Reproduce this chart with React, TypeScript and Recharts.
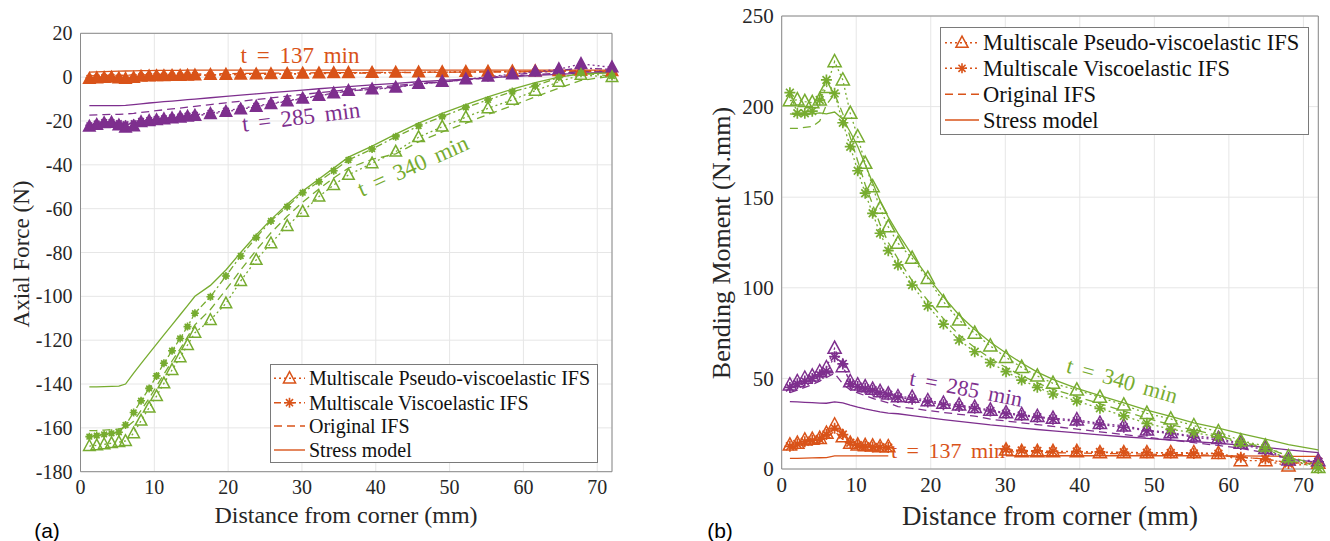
import React from 'react';
import { LineChart, Line, XAxis, YAxis, CartesianGrid, ReferenceArea } from 'recharts';

const ORANGE = '#D95319';
const PURPLE = '#7E2F8E';
const GREEN = '#77AC30';
const SERIF = '"Liberation Serif", "Times New Roman", serif';

// (a) axial force, distance from corner in mm
const DIST_A = [1.2, 2.2, 3.2, 4.2, 5.2, 6.1, 7.2, 8.2, 9.3, 10.3, 11.3, 12.4, 13.5, 14.5, 15.5, 17.6, 19.7, 21.7, 23.8, 25.8, 28.0, 30.1, 32.3, 34.3, 36.3, 39.5, 42.7, 45.8, 49.0, 52.2, 55.2, 58.5, 61.6, 64.8, 67.8, 72.0];

const A137_PSEUDO = [-0.8, -0.5, -0.3, -0.2, -0.6, -0.8, -0.3, 0.2, 0.4, 0.5, 0.5, 0.6, 0.6, 0.7, 0.8, 1.0, 1.1, 1.2, 1.3, 1.4, 1.5, 1.6, 1.7, 1.8, 1.9, 2.0, 2.1, 2.2, 2.3, 2.4, 2.5, 2.6, 2.7, 2.8, 3.0, 2.8];
const A137_VISCO = [-0.4, -0.2, 0.0, 0.1, -0.3, -0.5, 0.0, 0.3, 0.5, 0.6, 0.6, 0.7, 0.7, 0.8, 0.9, 1.0, 1.1, 1.2, 1.3, 1.3, 1.4, 1.5, 1.6, 1.7, 1.8, 1.9, 2.0, 2.1, 2.2, 2.3, 2.4, 2.5, 2.6, 2.7, 2.9, 2.7];
const A137_ORIG = [0.6, 0.7, 0.8, 0.8, 0.8, 0.9, 1.0, 1.0, 1.1, 1.2, 1.2, 1.3, 1.3, 1.4, 1.4, 1.5, 1.6, 1.7, 1.7, 1.8, 1.9, 1.9, 2.0, 2.0, 2.1, 2.1, 2.2, 2.2, 2.3, 2.3, 2.4, 2.4, 2.5, 2.5, 2.6, 2.6];
const A137_STRESS = [2.3, 2.4, 2.5, 2.6, 2.7, 2.8, 2.9, 3.0, 3.0, 3.1, 3.1, 3.1, 3.1, 3.2, 3.2, 3.2, 3.2, 3.2, 3.2, 3.2, 3.2, 3.2, 3.2, 3.2, 3.2, 3.2, 3.2, 3.2, 3.2, 3.2, 3.2, 3.2, 3.2, 3.2, 3.2, 3.2];

const A285_PSEUDO = [-22.6, -21.8, -21.0, -20.8, -22.0, -23.0, -22.5, -20.5, -20.0, -19.6, -19.2, -18.8, -18.4, -18.0, -17.6, -16.8, -15.8, -14.7, -13.5, -12.3, -11.0, -9.8, -8.5, -7.4, -6.3, -5.6, -4.8, -3.1, -2.1, -1.0, 0.2, 1.3, 2.5, 3.6, 6.0, 4.5];
const A285_VISCO = [-22.0, -21.2, -20.5, -20.5, -21.0, -21.5, -21.0, -20.0, -19.6, -19.2, -18.8, -18.4, -18.0, -17.6, -17.2, -16.3, -15.3, -14.3, -13.1, -12.0, -10.8, -9.6, -8.4, -7.3, -6.3, -5.5, -4.5, -3.2, -2.2, -1.2, -0.2, 1.0, 2.0, 3.0, 4.2, 3.5];
const A285_ORIG = [-17.3, -17.2, -17.1, -17.0, -17.0, -16.8, -16.5, -16.1, -15.7, -15.3, -14.9, -14.5, -14.1, -13.7, -13.3, -12.5, -11.7, -11.0, -10.2, -9.5, -8.7, -7.9, -7.1, -6.4, -5.7, -4.8, -3.8, -2.9, -2.0, -1.2, -0.4, 0.4, 1.1, 1.8, 2.4, 2.5];
const A285_STRESS = [-13.0, -13.0, -13.0, -13.0, -13.0, -12.9, -12.5, -12.2, -11.8, -11.5, -11.2, -10.9, -10.6, -10.3, -10.0, -9.4, -8.8, -8.2, -7.6, -7.1, -6.5, -5.9, -5.3, -4.8, -4.3, -3.5, -2.8, -2.1, -1.5, -0.9, -0.3, 0.3, 0.8, 1.3, 1.8, 2.2];

const A340_PSEUDO = [-168.3, -168.0, -167.5, -167.0, -166.5, -166.0, -162.5, -156.7, -150.8, -145.5, -139.7, -133.6, -127.8, -122.2, -116.6, -110.8, -103.2, -93.0, -83.4, -75.8, -67.9, -61.4, -54.5, -49.2, -44.6, -39.3, -34.0, -27.4, -22.6, -18.3, -14.2, -10.4, -6.2, -2.1, 1.0, 0.0];
const A340_VISCO = [-164.0, -163.5, -163.0, -162.5, -162.0, -158.7, -153.0, -147.6, -142.0, -136.3, -130.5, -124.8, -119.2, -113.8, -107.7, -100.2, -90.7, -81.6, -73.2, -65.6, -59.1, -52.7, -47.7, -42.7, -37.8, -32.8, -27.2, -22.3, -18.0, -13.8, -10.4, -6.6, -4.0, -0.1, 1.8, 0.5];
const A340_ORIG = [-161.3, -161.2, -161.0, -160.8, -160.5, -160.0, -157.0, -152.0, -146.5, -141.0, -135.5, -129.5, -124.0, -118.5, -113.0, -106.0, -97.0, -88.0, -79.0, -71.0, -63.5, -57.0, -51.0, -46.0, -41.5, -37.5, -35.0, -29.5, -25.0, -21.0, -17.0, -13.0, -9.0, -5.0, -1.5, 0.5];
const A340_STRESS = [-141.3, -141.3, -141.2, -141.1, -141.0, -140.0, -135.0, -130.7, -126.0, -121.8, -117.6, -113.0, -108.4, -104.2, -100.0, -95.0, -88.0, -80.0, -72.0, -65.0, -58.0, -52.0, -46.5, -41.5, -36.5, -31.5, -26.0, -21.0, -16.5, -12.5, -9.0, -5.5, -2.5, 0.0, 1.5, 2.0];

// (b) bending moment
const DIST_B = [1.1, 2.1, 3.1, 4.1, 5.1, 6.0, 7.1, 8.2, 9.2, 10.2, 11.2, 12.2, 13.2, 14.3, 15.6, 17.5, 19.6, 21.7, 23.8, 25.9, 28.0, 30.1, 32.2, 34.3, 36.4, 39.6, 42.7, 45.9, 49.0, 52.2, 55.3, 58.6, 61.6, 64.9, 68.0, 72.0];

const B137_PSEUDO = [13.2, 14.2, 16.0, 16.4, 16.9, 19.7, 24.3, 17.8, 14.2, 13.2, 12.9, 12.7, 12.3, 12.3, null, null, null, null, null, null, null, 10.5, 9.6, 9.6, 9.6, 9.6, 9.0, 9.0, 9.0, 9.0, 9.0, 8.6, 4.6, 4.6, 1.7, 3.2];
const B137_VISCO = [12.5, 13.8, 15.0, 15.8, 16.5, 19.0, 22.5, 19.0, 14.5, 13.2, 12.6, 12.2, 12.0, 11.8, null, null, null, null, null, null, null, 10.8, 10.2, 10.0, 9.8, 9.6, 9.4, 9.2, 9.0, 8.8, 8.6, 8.4, 6.5, 5.5, 3.0, 4.0];
const B137_ORIG = [11.5, 12.5, 13.5, 14.0, 15.0, 17.0, 21.0, 16.0, 13.0, 12.0, 11.5, 11.0, 11.0, 11.0, null, null, null, null, null, null, null, 9.5, 9.3, 9.1, 9.0, 8.8, 8.6, 8.4, 8.2, 8.0, 7.8, 7.5, 6.5, 5.5, 3.5, 3.0];
const B137_STRESS = [5.9, 5.9, 6.0, 6.1, 6.2, 6.3, 7.2, 7.2, 7.2, 7.2, 7.2, 7.2, 7.2, 7.2, null, null, null, null, null, null, null, 7.3, 7.3, 7.3, 7.3, 7.3, 7.3, 7.3, 7.3, 7.3, 7.3, 7.2, 7.2, 7.1, 7.0, 7.0];

const B285_PSEUDO = [46.4, 48.2, 50.1, 51.3, 53.7, 55.9, 66.6, 56.5, 48.2, 46.4, 45.4, 44.0, 42.7, 41.4, 39.9, 39.6, 37.7, 36.3, 35.3, 34.0, 32.5, 31.0, 30.0, 29.0, 28.0, 27.1, 25.2, 23.8, 21.5, 20.0, 18.2, 16.9, 14.2, 11.4, 5.0, 4.6];
const B285_VISCO = [45.0, 47.0, 48.5, 50.0, 52.0, 54.0, 62.0, 58.0, 47.0, 45.5, 44.5, 43.5, 42.0, 41.0, 39.5, 38.5, 37.0, 35.5, 34.5, 33.5, 32.0, 30.5, 29.5, 28.5, 27.5, 26.3, 24.5, 23.0, 21.0, 19.5, 17.5, 16.0, 13.5, 10.5, 4.5, 4.0];
const B285_ORIG = [42.1, 43.5, 45.0, 46.5, 48.5, 50.5, 52.8, 47.0, 43.6, 42.0, 40.5, 39.0, 37.8, 36.5, 34.4, 33.5, 32.3, 31.2, 30.2, 29.2, 27.5, 26.5, 25.5, 24.5, 23.5, 22.0, 20.5, 19.0, 17.5, 16.0, 14.5, 13.0, 11.4, 9.0, 5.5, 3.7];
const B285_STRESS = [37.2, 37.0, 36.8, 36.6, 36.4, 36.3, 37.0, 36.5, 35.3, 34.2, 33.2, 32.3, 31.5, 30.8, 30.5, 29.5, 28.3, 27.3, 26.3, 25.3, 24.3, 23.5, 22.6, 21.8, 21.0, 19.9, 18.8, 17.8, 16.9, 16.0, 15.1, 14.2, 13.2, 12.0, 10.5, 9.0];

const B340_PSEUDO = [203.3, 203.7, 202.8, 202.2, 203.7, 210.6, 224.8, 214.7, 196.3, 183.4, 168.7, 155.8, 143.9, 133.7, 124.6, 116.3, 105.2, 92.3, 82.2, 74.9, 67.9, 61.6, 56.1, 51.3, 47.3, 43.6, 39.6, 35.3, 30.7, 27.6, 23.9, 20.6, 15.6, 12.7, 6.8, 0.9];
const B340_VISCO = [207.7, 196.3, 196.3, 197.5, 203.6, 214.7, 207.3, 191.1, 177.9, 164.6, 152.2, 141.1, 130.1, 120.5, 112.6, 101.5, 90.0, 80.0, 71.2, 64.7, 58.7, 53.7, 49.1, 45.1, 41.4, 37.5, 33.5, 29.3, 25.2, 21.9, 20.0, 17.8, 14.5, 11.4, 5.3, 0.4];
const B340_ORIG = [188.0, 188.0, 188.5, 189.0, 192.0, 201.0, 207.0, 196.0, 183.0, 170.0, 157.0, 146.0, 135.0, 125.0, 116.0, 104.0, 93.0, 83.0, 74.0, 67.0, 61.0, 56.0, 51.5, 47.5, 44.0, 40.0, 36.0, 32.0, 28.0, 24.5, 21.5, 18.5, 15.0, 12.0, 7.0, 2.0];
const B340_STRESS = [196.0, 195.5, 195.5, 196.0, 196.5, 196.0, 197.0, 193.0, 186.0, 178.0, 168.0, 158.0, 148.0, 139.0, 130.0, 118.0, 106.0, 95.0, 85.0, 77.0, 70.0, 64.0, 58.5, 53.5, 49.5, 44.5, 40.5, 36.5, 32.5, 29.0, 25.5, 22.5, 19.5, 16.5, 13.5, 10.5];

const X_TICKS = [0, 10, 20, 30, 40, 50, 60, 70];
const A_TICKS = [-180, -160, -140, -120, -100, -80, -60, -40, -20, 0, 20];
const B_TICKS = [0, 50, 100, 150, 200, 250];

const LEGEND_LABELS = ['Multiscale Pseudo-viscoelastic IFS', 'Multiscale Viscoelastic IFS', 'Original IFS', 'Stress model'];

type Kind = 'pseudo' | 'visco' | 'orig' | 'stress';
type Series = { key: string; values: (number | null)[]; color: string; kind: Kind; filled?: boolean };

const DOTTED = '2 3';
const DASHED = '8 5';
const DASHDOT = '7 3 2 3';

function triangle(color: string, size: number, filled: boolean) {
  return (p: any) => {
    const { cx, cy, index } = p;
    if (cx == null || cy == null || Number.isNaN(cy)) return <g key={`n${index}`} />;
    const w = size * 0.55;
    return (
      <polygon
        key={`t${index}`}
        points={`${cx},${cy - size * 0.6} ${cx - w},${cy + size * 0.42} ${cx + w},${cy + size * 0.42}`}
        fill={filled ? color : 'none'}
        stroke={color}
        strokeWidth={1.5}
      />
    );
  };
}

// asterisk marker; blob=true adds a filled core (how it reads at small size in panel a)
function star(color: string, r: number, sw: number, blob = false) {
  return (p: any) => {
    const { cx, cy, index } = p;
    if (cx == null || cy == null || Number.isNaN(cy)) return <g key={`n${index}`} />;
    const d = r * 0.707;
    return (
      <g key={`s${index}`}>
        {blob && <circle cx={cx} cy={cy} r={r * 0.7} fill={color} />}
        <path
          d={`M${cx - r},${cy}H${cx + r}M${cx},${cy - r}V${cy + r}M${cx - d},${cy - d}L${cx + d},${cy + d}M${cx - d},${cy + d}L${cx + d},${cy - d}`}
          stroke={color}
          strokeWidth={sw}
        />
      </g>
    );
  };
}

function group(prefix: string, color: string, vals: (number | null)[][], filled: boolean): Series[] {
  const kinds: Kind[] = ['stress', 'orig', 'visco', 'pseudo'];
  return kinds.map((k, i) => ({ key: `${prefix}_${k}`, values: vals[i], color, kind: k, filled }));
}

const SERIES_A: Series[] = [
  ...group('a137', ORANGE, [A137_STRESS, A137_ORIG, A137_VISCO, A137_PSEUDO], true),
  ...group('a285', PURPLE, [A285_STRESS, A285_ORIG, A285_VISCO, A285_PSEUDO], true),
  ...group('a340', GREEN, [A340_STRESS, A340_ORIG, A340_VISCO, A340_PSEUDO], false),
];

const SERIES_B: Series[] = [
  ...group('b137', ORANGE, [B137_STRESS, B137_ORIG, B137_VISCO, B137_PSEUDO], false),
  ...group('b285', PURPLE, [B285_STRESS, B285_ORIG, B285_VISCO, B285_PSEUDO], false),
  ...group('b340', GREEN, [B340_STRESS, B340_ORIG, B340_VISCO, B340_PSEUDO], false),
];

function rows(xs: number[], series: Series[]) {
  return xs.map((x, i) => {
    const r: Record<string, number | null> = { x };
    series.forEach((s) => (r[s.key] = s.values[i]));
    return r;
  });
}

function renderLines(series: Series[], panel: 'a' | 'b') {
  return series.map((s) => {
    let dash: string | undefined;
    let dot: any = false;
    if (s.kind === 'pseudo') {
      dash = DOTTED;
      dot = triangle(s.color, panel === 'a' ? 10.5 : 12, !!s.filled);
    } else if (s.kind === 'visco') {
      dash = panel === 'a' ? DASHDOT : DOTTED;
      dot = panel === 'a' ? star(s.color, 4, 1.6, true) : star(s.color, 5.5, 1.7);
    } else if (s.kind === 'orig') {
      dash = DASHED;
    }
    return (
      <Line
        key={s.key}
        dataKey={s.key}
        type="linear"
        stroke={s.color}
        strokeWidth={1.3}
        strokeDasharray={dash}
        dot={dot}
        activeDot={false}
        connectNulls={false}
        isAnimationActive={false}
      />
    );
  });
}

const tickStyle = (size: number) => ({ fill: '#262626', fontSize: size, fontFamily: SERIF });

function Note({ x, y, angle, color, size, text }: { x: number; y: number; angle: number; color: string; size: number; text: string }) {
  return (
    <div
      style={{
        position: 'absolute',
        left: x,
        top: y,
        transform: `translate(-50%, -50%) rotate(${angle}deg)`,
        color,
        fontSize: size,
        fontFamily: SERIF,
        whiteSpace: 'pre',
        wordSpacing: 4,
        lineHeight: 1,
      }}
    >
      {text}
    </div>
  );
}

function LegendBox({ left, top, width, height, size, rowY, sample, textX, viscoDash }: {
  left: number; top: number; width: number; height: number; size: number;
  rowY: number[]; sample: [number, number]; textX: number; viscoDash: string;
}) {
  const mid = (sample[0] + sample[1]) / 2;
  const dashes = [DOTTED, viscoDash, DASHED, undefined];
  return (
    <svg style={{ position: 'absolute', left, top }} width={width} height={height}>
      <rect x={0.5} y={0.5} width={width - 1} height={height - 1} fill="#fff" stroke="#7a7a7a" strokeWidth={1} />
      {LEGEND_LABELS.map((lab, i) => (
        <g key={lab}>
          <line x1={sample[0]} x2={sample[1]} y1={rowY[i]} y2={rowY[i]} stroke={ORANGE} strokeWidth={1.4} strokeDasharray={dashes[i]} />
          {i === 0 && triangle(ORANGE, 11, false)({ cx: mid, cy: rowY[i], index: 0 })}
          {i === 1 && star(ORANGE, 5, 1.6)({ cx: mid, cy: rowY[i], index: 1 })}
          <text x={textX} y={rowY[i]} dominantBaseline="central" fontSize={size} fontFamily={SERIF} fill="#111">
            {lab}
          </text>
        </g>
      ))}
    </svg>
  );
}

export default function App() {
  const dataA = rows(DIST_A, SERIES_A);
  const dataB = rows(DIST_B, SERIES_B);
  return (
    <div style={{ position: 'absolute', left: 0, top: 0, width: 1330, height: 541, background: '#fff', overflow: 'hidden' }}>
      {/* panel (a) */}
      <div style={{ position: 'absolute', left: 0, top: 0 }}>
        <LineChart width={640} height={541} data={dataA} margin={{ top: 33.3, right: 28, bottom: 39.3, left: 0 }}>
          <CartesianGrid stroke="#e6e6e6" />
          <XAxis dataKey="x" type="number" domain={[0, 72]} ticks={X_TICKS} height={30} tick={tickStyle(20)} tickLine={false} axisLine={false} />
          <YAxis type="number" domain={[-180, 20]} ticks={A_TICKS} width={80.5} tick={tickStyle(20)} tickLine={false} axisLine={false} />
          <ReferenceArea x1={0} x2={72} y1={-180} y2={20} fill="none" stroke="#8a8a8a" strokeWidth={1} />
          {renderLines(SERIES_A, 'a')}
        </LineChart>
      </div>
      {/* panel (b) */}
      <div style={{ position: 'absolute', left: 660, top: 0 }}>
        <LineChart width={670} height={541} data={dataB} margin={{ top: 16, right: 11.7, bottom: 42, left: 0 }}>
          <CartesianGrid stroke="#e6e6e6" />
          <XAxis dataKey="x" type="number" domain={[0, 72]} ticks={X_TICKS} height={30} tick={tickStyle(21)} tickLine={false} axisLine={false} />
          <YAxis type="number" domain={[0, 250]} ticks={B_TICKS} width={121.7} tick={tickStyle(21)} tickLine={false} axisLine={false} />
          <ReferenceArea x1={0} x2={72} y1={0} y2={250} fill="none" stroke="#8a8a8a" strokeWidth={1} />
          {renderLines(SERIES_B, 'b')}
        </LineChart>
      </div>

      {/* axis titles */}
      <div style={{ position: 'absolute', left: 21, top: 254, transform: 'translate(-50%, -50%) rotate(-90deg)', fontFamily: SERIF, fontSize: 23, color: '#262626', whiteSpace: 'pre', lineHeight: 1 }}>
        Axial Force (N)
      </div>
      <div style={{ position: 'absolute', left: 346, top: 515, transform: 'translate(-50%, -50%)', fontFamily: SERIF, fontSize: 24, color: '#262626', whiteSpace: 'pre', lineHeight: 1 }}>
        Distance from corner (mm)
      </div>
      <div style={{ position: 'absolute', left: 722, top: 243, transform: 'translate(-50%, -50%) rotate(-90deg)', fontFamily: SERIF, fontSize: 26, color: '#262626', whiteSpace: 'pre', lineHeight: 1 }}>
        Bending Moment (N.mm)
      </div>
      <div style={{ position: 'absolute', left: 1050, top: 516, transform: 'translate(-50%, -50%)', fontFamily: SERIF, fontSize: 27, color: '#262626', whiteSpace: 'pre', lineHeight: 1 }}>
        Distance from corner (mm)
      </div>

      {/* panel tags */}
      <div style={{ position: 'absolute', left: 47, top: 530, transform: 'translate(-50%, -50%)', fontFamily: '"Liberation Sans", Arial, sans-serif', fontSize: 21, color: '#000', lineHeight: 1 }}>(a)</div>
      <div style={{ position: 'absolute', left: 720, top: 530, transform: 'translate(-50%, -50%)', fontFamily: '"Liberation Sans", Arial, sans-serif', fontSize: 21, color: '#000', lineHeight: 1 }}>(b)</div>

      {/* curve annotations */}
      <Note x={300} y={55} angle={0} color={ORANGE} size={23} text="t = 137 min" />
      <Note x={301} y={117} angle={-7} color={PURPLE} size={23} text="t = 285 min" />
      <Note x={413} y={166} angle={-24} color={GREEN} size={23} text="t = 340 min" />
      <Note x={948} y={451} angle={0} color={ORANGE} size={22} text="t = 137 min" />
      <Note x={966} y={389} angle={11} color={PURPLE} size={22} text="t = 285 min" />
      <Note x={1122} y={381} angle={16} color={GREEN} size={22} text="t = 340 min" />

      {/* legends */}
      <LegendBox left={270} top={364} width={328} height={99} size={20} rowY={[14.3, 38.7, 62, 86]} sample={[4, 35]} textX={39} viscoDash={DASHDOT} />
      <LegendBox left={940} top={27} width={369} height={108} size={22.5} rowY={[15.7, 41.3, 67.3, 93]} sample={[5, 39]} textX={43} viscoDash={DOTTED} />
    </div>
  );
}
